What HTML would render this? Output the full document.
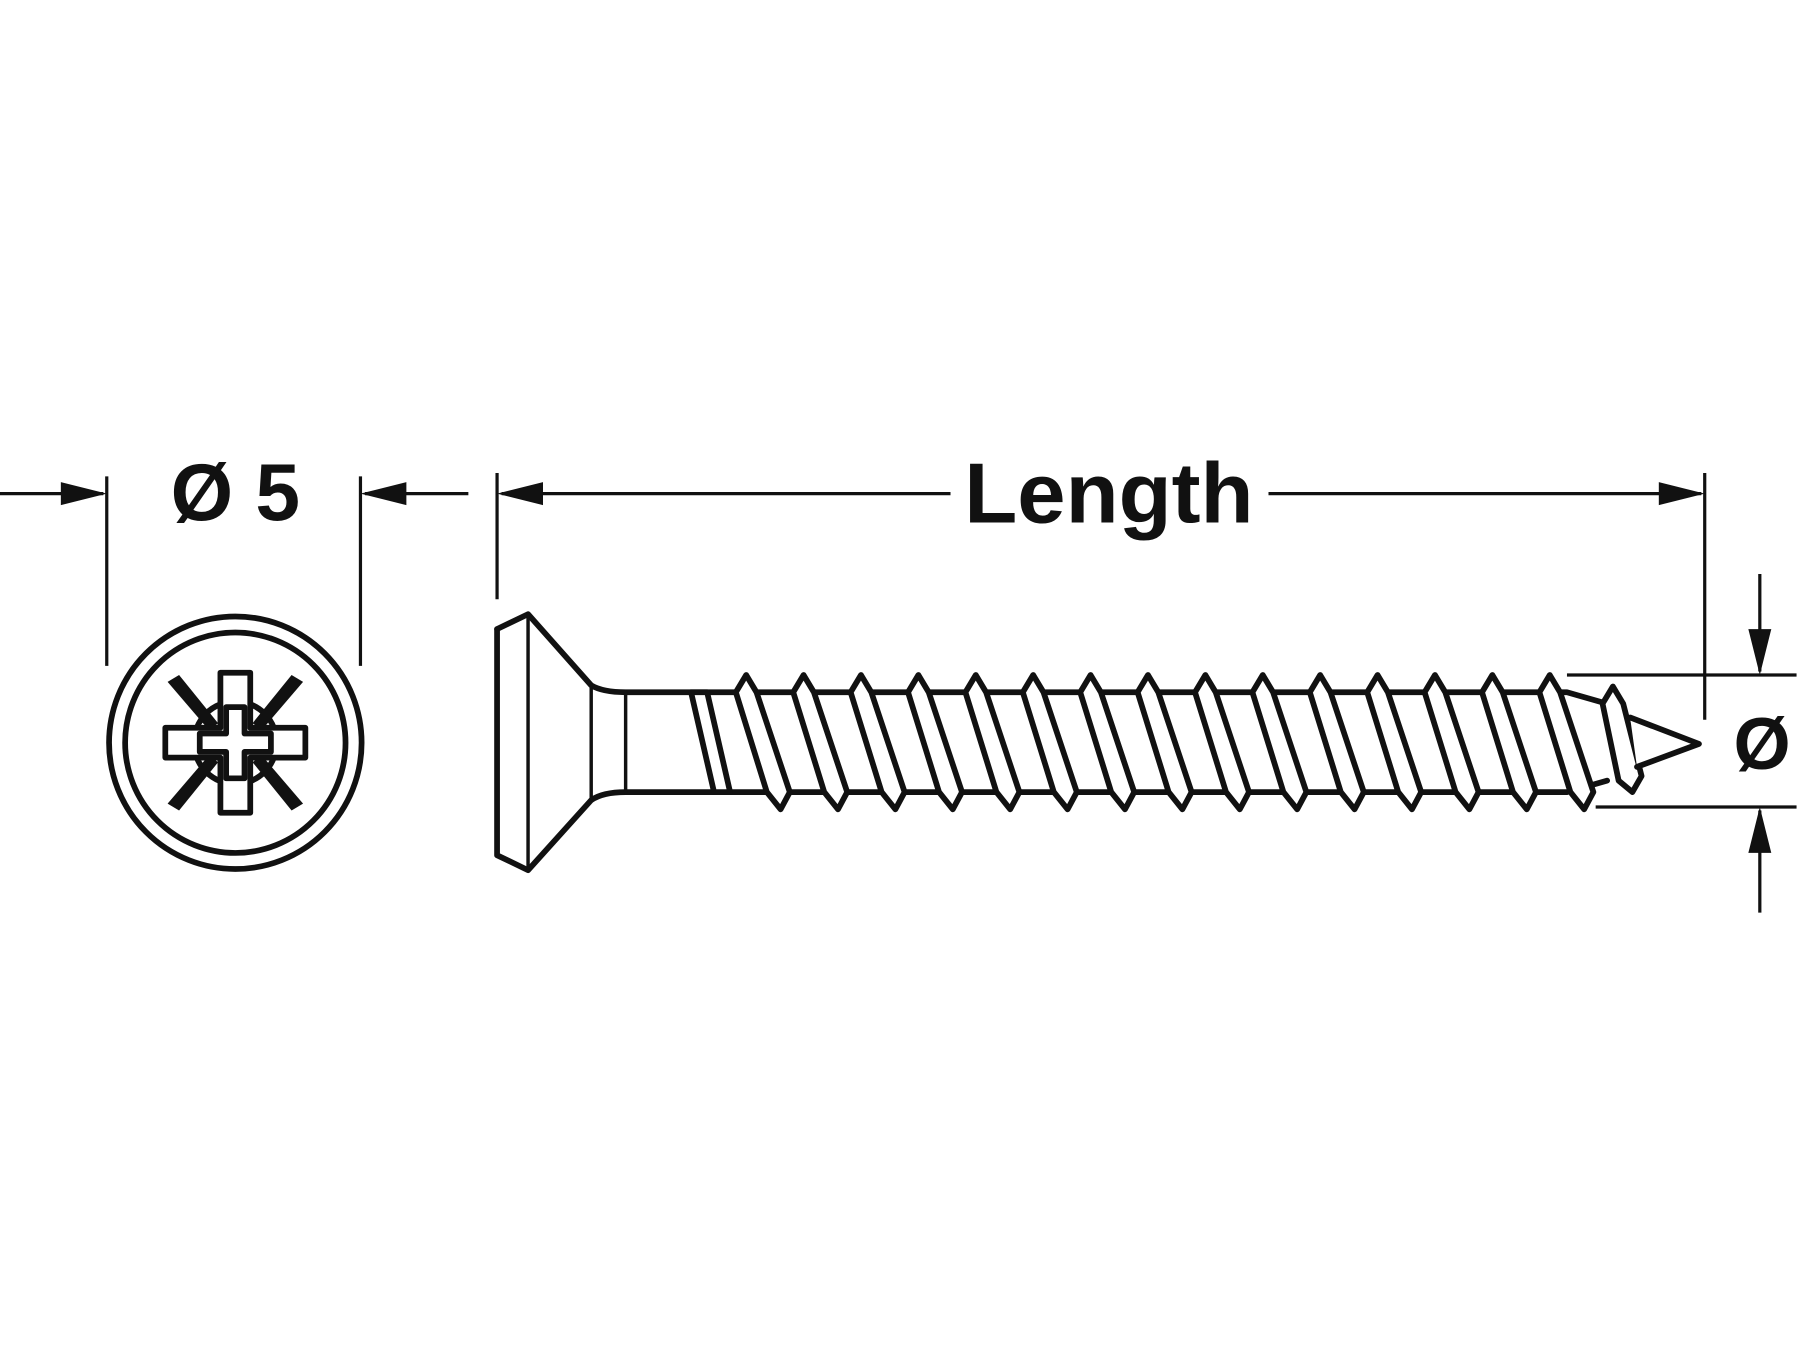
<!DOCTYPE html>
<html><head><meta charset="utf-8"><style>html,body{margin:0;padding:0;background:#fff}svg{display:block}</style></head>
<body>
<svg width="1800" height="1350" viewBox="0 0 1568 1176" xmlns="http://www.w3.org/2000/svg">
<g stroke="#111" fill="none" stroke-width="2.8">
<line x1="0" y1="430" x2="90" y2="430"/>
<line x1="93" y1="415" x2="93" y2="580"/>
<line x1="314" y1="415" x2="314" y2="580"/>
<line x1="318" y1="430" x2="408" y2="430"/>
<line x1="433" y1="412" x2="433" y2="522"/>
<line x1="437" y1="430" x2="828" y2="430"/>
<line x1="1105" y1="430" x2="1482" y2="430"/>
<line x1="1485" y1="412" x2="1485" y2="627"/>
<line x1="1365" y1="588" x2="1565" y2="588"/>
<line x1="1390" y1="703" x2="1565" y2="703"/>
<line x1="1533" y1="500" x2="1533" y2="585"/>
<line x1="1533" y1="706" x2="1533" y2="795"/>
</g>
<g fill="#111">
<polygon points="93,430 53,420 53,440"/>
<polygon points="314,430 354,420 354,440"/>
<polygon points="433,430 473,420 473,440"/>
<polygon points="1485,430 1445,420 1445,440"/>
<polygon points="1533,588 1523,548 1543,548"/>
<polygon points="1533,703 1523,743 1543,743"/>
</g>
<g font-family="Liberation Sans, sans-serif" font-weight="bold" fill="#111">
<text x="205" y="453" font-size="70" text-anchor="middle">Ø 5</text>
<text x="966" y="455" font-size="74" text-anchor="middle" textLength="252" lengthAdjust="spacingAndGlyphs">Length</text>
<text x="1535" y="670" font-size="64" text-anchor="middle">Ø</text>
</g>
<g stroke="#111" fill="none" stroke-width="5">
<circle cx="205" cy="647" r="110"/>
<circle cx="205" cy="647" r="96"/>
<circle cx="205" cy="647" r="36"/>
</g>
<g fill="#111">
<polygon points="146,594 156,588 190,630 182,636"/>
<polygon points="264,594 254,588 220,630 228,636"/>
<polygon points="146,700 156,706 190,664 182,658"/>
<polygon points="264,700 254,706 220,664 228,658"/>
</g>
<path d="M192,586 H218 V634 H266 V660 H218 V708 H192 V660 H144 V634 H192 Z" fill="#fff" stroke="#111" stroke-width="5" stroke-linejoin="round"/>
<path d="M197,616 H213 V639 H236 V655 H213 V678 H197 V655 H174 V639 H197 Z" fill="#fff" stroke="#111" stroke-width="5" stroke-linejoin="round"/>
<g stroke="#111" fill="none" stroke-width="5" stroke-linejoin="round" stroke-linecap="round">
<path d="M433,548 L460,535 L515,597 Q525,603 545,603 L1365,603 L1400,613"/>
<path d="M433,548 L433,745 L460,758 L515,697 Q525,690 545,690 L1365,690 L1400,680"/>
<line x1="460" y1="535" x2="460" y2="758" stroke-width="3"/>
<line x1="515" y1="597" x2="515" y2="697" stroke-width="3"/>
<line x1="545" y1="603" x2="545" y2="690" stroke-width="3"/>
<polygon points="602,603 616,603 636,690 622,690" fill="#fff"/>
<polygon points="1396,613 1405,598 1414,613 1430,676 1422,690 1410,680" fill="#fff"/>
<path d="M1420,625 L1480,648 L1426,668" fill="#fff"/>
</g>
<g stroke="#111" fill="#fff" stroke-width="5" stroke-linejoin="round">
<polygon points="641,603 650,588 659,603 688,690 680,705 668,690"/>
<polygon points="691,603 700,588 709,603 738,690 730,705 718,690"/>
<polygon points="741,603 750,588 759,603 788,690 780,705 768,690"/>
<polygon points="791,603 800,588 809,603 838,690 830,705 818,690"/>
<polygon points="841,603 850,588 859,603 888,690 880,705 868,690"/>
<polygon points="891,603 900,588 909,603 938,690 930,705 918,690"/>
<polygon points="941,603 950,588 959,603 988,690 980,705 968,690"/>
<polygon points="991,603 1000,588 1009,603 1038,690 1030,705 1018,690"/>
<polygon points="1041,603 1050,588 1059,603 1088,690 1080,705 1068,690"/>
<polygon points="1091,603 1100,588 1109,603 1138,690 1130,705 1118,690"/>
<polygon points="1141,603 1150,588 1159,603 1188,690 1180,705 1168,690"/>
<polygon points="1191,603 1200,588 1209,603 1238,690 1230,705 1218,690"/>
<polygon points="1241,603 1250,588 1259,603 1288,690 1280,705 1268,690"/>
<polygon points="1291,603 1300,588 1309,603 1338,690 1330,705 1318,690"/>
<polygon points="1341,603 1350,588 1359,603 1388,690 1380,705 1368,690"/>
</g>
</svg>
</body></html>
